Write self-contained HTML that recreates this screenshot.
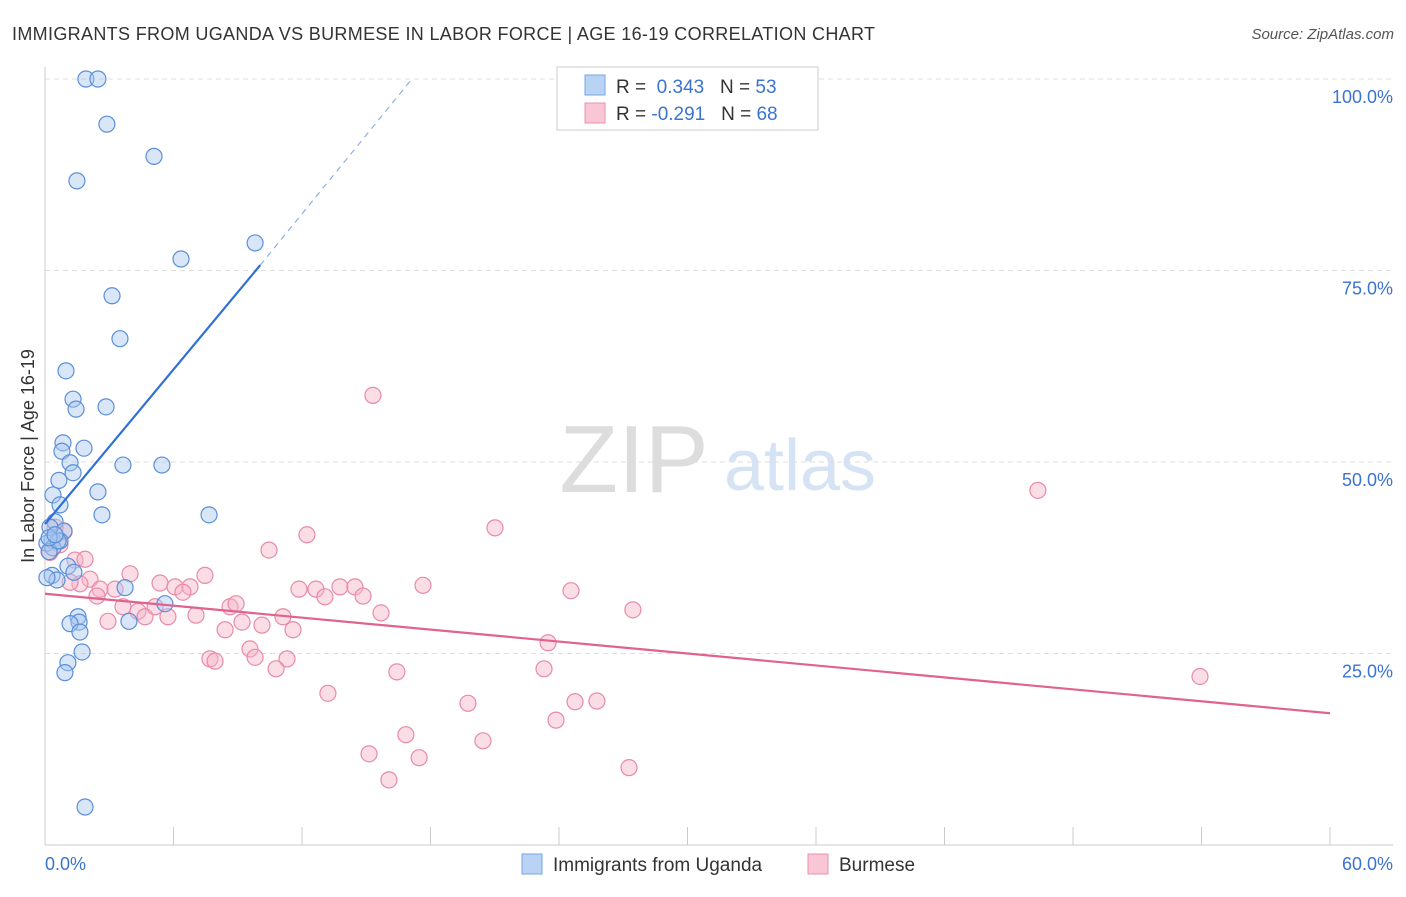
<!DOCTYPE html>
<html><head><meta charset="utf-8"><style>
body{margin:0;background:#fff;font-family:"Liberation Sans",sans-serif}
svg text{font-family:"Liberation Sans",sans-serif}
</style></head><body>
<svg id="c" width="1406" height="892">
<text x="12" y="40" font-size="18" fill="#333" textLength="863">IMMIGRANTS FROM UGANDA VS BURMESE IN LABOR FORCE | AGE 16-19 CORRELATION CHART</text>
<text x="1394" y="39" font-size="15" fill="#555" text-anchor="end" font-style="italic">Source: ZipAtlas.com</text>
<text x="634" y="492" font-size="96" fill="#ddd" font-family="Liberation Serif" text-anchor="middle">ZIP</text>
<text x="800" y="490" font-size="72" fill="#d6e3f4" text-anchor="middle">atlas</text>
<g id="grid"></g><g id="pts"></g><g id="lines"></g>
<text transform="translate(34,456) rotate(-90)" font-size="18" fill="#333" text-anchor="middle">In Labor Force | Age 16-19</text>
<text x="45" y="870" font-size="18" fill="#3b73d1">0.0%</text>
<text x="1393" y="870" font-size="18" fill="#3b73d1" text-anchor="end">60.0%</text>
<g>
<rect x="557" y="67" width="261" height="63" fill="#fff" stroke="#ccc"/>
<rect x="585" y="75" width="20" height="20" fill="#b9d3f5" stroke="#7aa6e3"/>
<rect x="585" y="103" width="20" height="20" fill="#f9c6d5" stroke="#eb92ae"/>
<text x="616" y="93" font-size="19" fill="#333">R = <tspan fill="#3b73d1">&#160;0.343</tspan>&#160;&#160;&#160;N = <tspan fill="#3b73d1">53</tspan></text>
<text x="616" y="120" font-size="19" fill="#333">R = <tspan fill="#3b73d1">-0.291</tspan>&#160;&#160;&#160;N = <tspan fill="#3b73d1">68</tspan></text>
</g>
<g>
<rect x="522" y="854" width="20" height="20" fill="#b9d3f5" stroke="#7aa6e3"/>
<text x="553" y="871" font-size="19" fill="#333">Immigrants from Uganda</text>
<rect x="808" y="854" width="20" height="20" fill="#f9c6d5" stroke="#eb92ae"/>
<text x="839" y="871" font-size="19" fill="#333">Burmese</text>
</g>
</svg>
<script>
const yTicks=[25,50,75,100];
const yTickLabels=["25.0%","50.0%","75.0%","100.0%"];
const xTicks=[0,6,12,18,24,30,36,42,48,54,60];
const ugandaX=[1.91,2.47,2.89,5.09,1.49,9.81,6.35,3.13,3.50,0.98,1.31,1.45,2.85,0.84,0.79,1.82,1.17,1.31,3.64,5.46,0.65,2.47,0.37,0.70,2.66,7.66,0.47,0.89,0.23,0.33,0.09,0.70,0.37,0.19,1.07,1.35,0.33,0.56,3.74,5.60,1.54,1.59,1.17,3.92,1.63,1.73,1.07,0.93,1.87,0.09,0.61,0.19,0.47];
const ugandaY=[100,100,94.1,89.9,86.7,78.6,76.5,71.7,66.1,61.9,58.2,56.9,57.2,52.5,51.4,51.8,49.9,48.6,49.6,49.6,47.6,46.1,45.7,44.4,43.1,43.1,42.2,41.0,41.5,39.8,39.4,39.7,38.8,38.3,36.4,35.6,35.2,34.6,33.6,31.5,29.8,29.1,28.9,29.2,27.8,25.2,23.8,22.5,4.96,34.9,39.7,40.1,40.5];
const burmX=[15.31,46.36,21.01,12.23,10.46,0.70,0.89,0.47,1.40,3.97,2.10,1.63,1.17,2.57,5.37,6.07,6.77,7.47,2.43,3.27,3.64,4.34,4.67,5.14,5.74,7.05,8.64,8.92,9.20,8.41,10.13,11.11,11.58,11.86,12.65,13.07,13.77,14.47,14.85,15.69,17.65,24.56,27.45,23.49,9.57,9.81,7.70,7.94,11.30,10.79,16.43,23.30,13.21,19.75,24.75,25.77,23.86,16.85,15.13,20.45,17.47,16.06,27.27,53.93,2.94,0.23,1.87,6.44];
const burmY=[58.7,46.3,41.4,40.5,38.5,39.2,40.9,41.5,37.2,35.4,34.7,34.1,34.3,33.4,34.2,33.7,33.7,35.2,32.5,33.4,31.1,30.5,29.8,31.1,29.8,30.0,31.1,31.5,29.1,28.1,28.7,29.8,28.1,33.4,33.4,32.4,33.7,33.7,32.5,30.3,33.9,33.2,30.7,26.4,25.6,24.5,24.3,24.0,24.3,23.0,22.6,23.0,19.8,18.5,18.7,18.8,16.3,14.4,11.9,13.6,11.4,8.5,10.1,22.0,29.2,38.2,37.3,33.0];
const X0=45,X1=1330,YB=845,YT=79;
const sx=v=>X0+v/60*(X1-X0), sy=v=>YB-v/100*(YB-YT);
const NS="http://www.w3.org/2000/svg";
function mk(t,a,p){const e=document.createElementNS(NS,t);for(const k in a)e.setAttribute(k,a[k]);p.appendChild(e);return e;}
const g=document.getElementById('grid');
yTicks.forEach((t,i)=>{
 const l=mk('line',{x1:X0,x2:1393,y1:sy(t),y2:sy(t),stroke:'#ddd','stroke-dasharray':'5,4'},g);
 
 
 const tx=mk('text',{x:1393,y:sy(t)+24,'font-size':18,fill:'#3b73d1','text-anchor':'end'},g);
 tx.textContent=yTickLabels[i];
 
 
});
const ax=mk('line',{x1:X0,x2:X0,y1:67,y2:YB,stroke:'#ccc'},g);


const bx=mk('line',{x1:X0,x2:1393,y1:YB,y2:YB,stroke:'#ccc'},g);


xTicks.forEach(t=>{
 const l=mk('line',{x1:sx(t),x2:sx(t),y1:YB,y2:YB-18,stroke:'#ccc'},g);
 
 
});
const p=document.getElementById('pts');
function dots(X,Y,f,s,n){X.forEach((x,i)=>{
 const c=mk('circle',{cx:sx(x),cy:sy(Y[i]),r:8,fill:f,'fill-opacity':0.45,stroke:s,'stroke-width':1.2},p);
 
 
});}
dots(burmX,burmY,'#f7b3c8','#e88aa8','burmese-point');
dots(ugandaX,ugandaY,'#a9c8f0','#5a8fd8','uganda-point');
const L=document.getElementById('lines');
const bl=mk('line',{x1:sx(0),y1:sy(41.9),x2:sx(10.05),y2:sy(75.7),stroke:'#2f6fd6','stroke-width':2.2},L);


const bd=mk('line',{x1:sx(10.05),y1:sy(75.7),x2:sx(17.13),y2:sy(100),stroke:'#8fb0e0','stroke-width':1.2,'stroke-dasharray':'6,5'},L);


const pl=mk('line',{x1:sx(0),y1:sy(32.8),x2:sx(60),y2:sy(17.2),stroke:'#e0628e','stroke-width':2.2},L);


</script>
</body></html>
